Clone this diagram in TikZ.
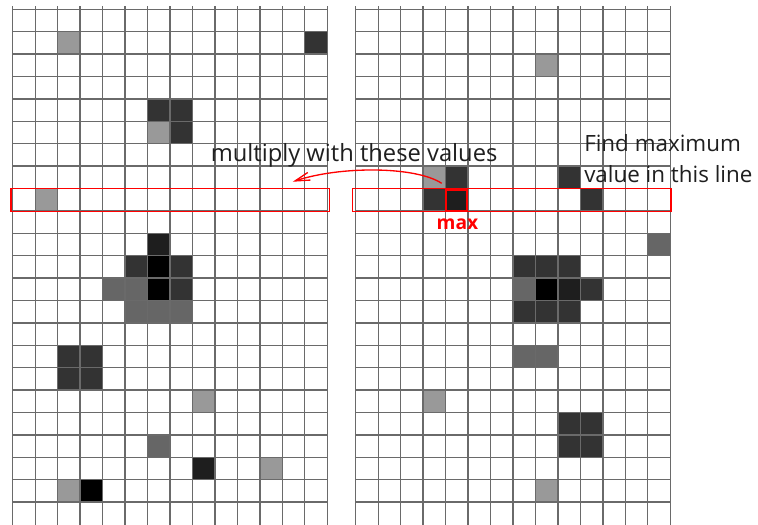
\documentclass[tikz,border=0pt]{standalone}
\usepackage{fontspec}
\setmainfont{Open Sans}
\usetikzlibrary{arrows.meta}
\definecolor{gridline}{HTML}{6A6A6A}
\definecolor{cA}{HTML}{999999}
\definecolor{cB}{HTML}{666666}
\definecolor{cC}{HTML}{333333}
\definecolor{cD}{HTML}{1E1E1E}
\definecolor{cE}{HTML}{000000}
\definecolor{hl}{HTML}{FF0000}
\tikzset{
  gridln/.style={draw=gridline, line width=1pt},
  selrow/.style={draw=hl, line width=1pt},
  maxbox/.style={draw=hl, line width=1.6pt},
  lbl/.style={inner sep=0pt, anchor=base west, text=black!88},
  maxlbl/.style={inner sep=0pt, anchor=base, font=\bfseries\fontsize{14.4}{16}\selectfont, text=hl},
  arr/.style={draw=hl, line width=1pt, -{Straight Barb[length=11pt,width=6pt]}}
}
\newcommand{\cellfill}[4]{% x0, col, row, colour
  \fill[#4] ({#1+22.47*#2},{9.3+22.4*#3}) rectangle ++(22.47,22.4);}
\begin{document}
\begin{tikzpicture}[x=0.75pt,y=-0.75pt]
\useasboundingbox[fill=white] (0,0) rectangle (758,525);
% left grid cells
\foreach \c/\r/\k in {2/1/cA,13/1/cC,6/4/cC,7/4/cC,6/5/cA,7/5/cC,1/8/cA,6/10/cD,
  5/11/cC,6/11/cE,7/11/cC,4/12/cB,5/12/cB,6/12/cE,7/12/cC,5/13/cB,6/13/cB,7/13/cB,
  2/15/cC,3/15/cC,2/16/cC,3/16/cC,8/17/cA,6/19/cB,8/20/cD,11/20/cA,2/21/cA,3/21/cE}
  {\cellfill{12.7}{\c}{\r}{\k}}
% right grid cells
\foreach \c/\r/\k in {8/2/cA,3/7/cA,4/7/cC,9/7/cC,3/8/cC,4/8/cD,10/8/cC,13/10/cB,
  7/11/cC,8/11/cC,9/11/cC,7/12/cB,8/12/cE,9/12/cD,10/12/cC,7/13/cC,8/13/cC,9/13/cC,
  7/15/cB,8/15/cB,3/17/cA,9/18/cC,10/18/cC,9/19/cC,10/19/cC,8/21/cA}
  {\cellfill{355.7}{\c}{\r}{\k}}
% grid lines
\foreach \xo in {12.7,355.7}{
  \foreach \i in {0,...,14}
    \draw[gridln] ({\xo+22.47*\i},6) -- ({\xo+22.47*\i},525);
  \foreach \j in {0,...,22}
    \draw[gridln] (\xo,{9.3+22.4*\j}) -- ({\xo+22.47*14},{9.3+22.4*\j});
}
% selected rows
\draw[selrow] (11,188.6) rectangle (329.5,211.8);
\draw[selrow] (352.3,188.6) rectangle (671,211.8);
\node[maxbox, minimum width=21.5*0.75pt, minimum height=21.5*0.75pt, inner sep=0pt] (maxcell) at (456.6,200.5) {};
\node[maxlbl] (maxtxt) at (457.5,229.3) {max};
% texts
\node[lbl, font=\fontsize{17.8}{20}\selectfont] (multxt) at (210.5,161) {multiply with these values};
\node[lbl, font=\fontsize{16.8}{20}\selectfont] (findA) at (584,151) {Find maximum};
\node[lbl, font=\fontsize{16.8}{20}\selectfont] (findB) at (584,182.3) {value in this line};
% arrow
\coordinate (arrS) at (441.7,183.3);
\coordinate (arrE) at (292.7,181.7);
\draw[arr] (arrS) .. controls (415,166) and (340,166) .. (arrE);
\end{tikzpicture}
\end{document}
